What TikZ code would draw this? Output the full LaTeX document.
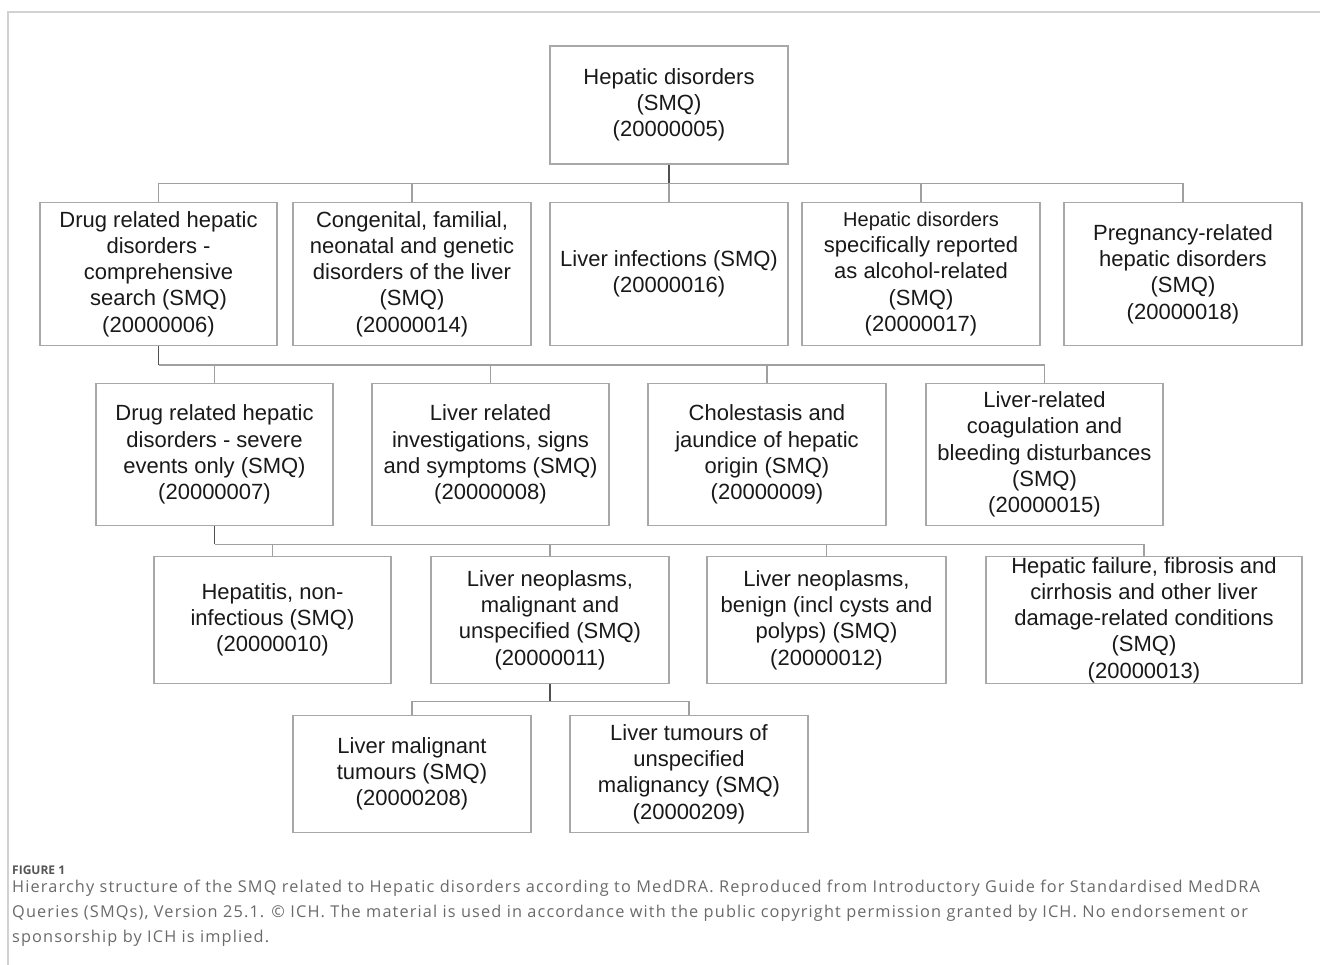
\documentclass[tikz,border=0pt]{standalone}
\usepackage{fontspec}
\setmainfont{Liberation Sans}
\newfontfamily\captionFont{Open Sans}[LetterSpace=7]
\newfontfamily\labelFont{Open Sans}
\newcommand{\boxFont}{\fontsize{22}{26.3}\selectfont}
\newcommand{\smallLine}{\fontsize{20}{26.3}\selectfont}
\newcommand{\stubLength}{19}
\definecolor{boxGray}{HTML}{A8A8A8}
\definecolor{busGray}{HTML}{A0A0A0}
\definecolor{stemGray}{HTML}{505050}
\definecolor{frameGray}{HTML}{D2D2D2}
\definecolor{captionGray}{HTML}{6A6A6A}

\begin{document}
\begin{tikzpicture}[x=1pt, y=-1pt,
    smqbox/.style={draw=boxGray, line width=1.4pt, align=center, inner sep=0pt,
        font=\boxFont, text=black!90},
    link/.style={draw=busGray, line width=1.4pt},
    stem/.style={draw=stemGray, line width=1.6pt}]
\useasboundingbox (0,0) rectangle (1320,965);
% frame of the figure
\draw[frameGray, line width=1.5pt] (1320,12) -- (8,12) -- (8,965);

% top
\node[smqbox, minimum width=238, minimum height=118] (root) at (669,105)
    {Hepatic disorders\\(SMQ)\\(20000005)};

% first level
\node[smqbox, minimum width=237, minimum height=143] (drugComp) at (158.5,274)
    {Drug related hepatic\\disorders -\\comprehensive\\search (SMQ)\\(20000006)};
\node[smqbox, minimum width=238, minimum height=143] (congenital) at (412,274)
    {Congenital, familial,\\neonatal and genetic\\disorders of the liver\\(SMQ)\\(20000014)};
\node[smqbox, minimum width=238, minimum height=143] (infection) at (669,274)
    {Liver infections (SMQ)\\(20000016)};
\node[smqbox, minimum width=238, minimum height=143] (alcohol) at (921,274)
    {{\smallLine Hepatic disorders}\\specifically reported\\as alcohol-related\\(SMQ)\\(20000017)};
\node[smqbox, minimum width=238, minimum height=143] (pregnancy) at (1183,274)
    {Pregnancy-related\\hepatic disorders\\(SMQ)\\(20000018)};

% second level
\node[smqbox, minimum width=237, minimum height=142] (severe) at (214.5,454.5)
    {Drug related hepatic\\disorders - severe\\events only (SMQ)\\(20000007)};
\node[smqbox, minimum width=237, minimum height=142] (investig) at (490.5,454.5)
    {Liver related\\investigations, signs\\and symptoms (SMQ)\\(20000008)};
\node[smqbox, minimum width=238, minimum height=142] (cholestasis) at (767,454.5)
    {Cholestasis and\\jaundice of hepatic\\origin (SMQ)\\(20000009)};
\node[smqbox, minimum width=237, minimum height=142] (coag) at (1044.5,454.5)
    {Liver-related\\coagulation and\\bleeding disturbances\\(SMQ)\\(20000015)};

% third level
\node[smqbox, minimum width=237, minimum height=127] (hepatitis) at (272.5,620)
    {Hepatitis, non-\\infectious (SMQ)\\(20000010)};
\node[smqbox, minimum width=238, minimum height=127] (malignant) at (550,620)
    {Liver neoplasms,\\malignant and\\unspecified (SMQ)\\(20000011)};
\node[smqbox, minimum width=239, minimum height=127] (benign) at (826.5,620)
    {Liver neoplasms,\\benign (incl cysts and\\polyps) (SMQ)\\(20000012)};
\node[smqbox, minimum width=316, minimum height=127] (failure) at (1144,620)
    {Hepatic failure, fibrosis and\\cirrhosis and other liver\\damage-related conditions\\(SMQ)\\(20000013)};

% fourth level
\node[smqbox, minimum width=238, minimum height=117] (tumours) at (412,774)
    {Liver malignant\\tumours (SMQ)\\(20000208)};
\node[smqbox, minimum width=238, minimum height=117] (unspecified) at (689,774)
    {Liver tumours of\\unspecified\\malignancy (SMQ)\\(20000209)};

% links root -> first level
\draw[stem] (root.south) -- ++(0,19) coordinate (bus1);
\draw[link] (drugComp.north) |- (bus1) -| (pregnancy.north);
\foreach \child in {congenital,infection,alcohol}
    \draw[link] (\child.north) -- (\child.north |- bus1);

% links drug related -> second level
\draw[stem] (drugComp.south) -- ++(0,\stubLength) coordinate (bus2);
\draw[link] (bus2) -| (coag.north);
\foreach \child in {severe,investig,cholestasis}
    \draw[link] (\child.north) -- (\child.north |- bus2);

% links severe -> third level
\draw[stem] (severe.south) -- ++(0,18) coordinate (bus3);
\draw[link] (bus3) -| (failure.north);
\foreach \child in {hepatitis,malignant,benign}
    \draw[link] (\child.north) -- (\child.north |- bus3);

% links malignant -> fourth level
\draw[stem] (malignant.south) -- ++(0,17) coordinate (bus4);
\draw[link] (tumours.north) |- (bus4) -| (unspecified.north);

% caption
\node[anchor=base west, inner sep=0pt, text=captionGray!80!black,
    font=\labelFont\bfseries\fontsize{12}{14}\selectfont] (figLabel) at (12,874) {FIGURE 1};
\node[anchor=north west, inner sep=0pt, align=left, text=captionGray,
    font=\captionFont\fontsize{16.3}{25}\selectfont] (caption) at (12,880)
    {Hierarchy structure of the SMQ related to Hepatic disorders according to MedDRA. Reproduced from Introductory Guide for Standardised MedDRA\\
     Queries (SMQs), Version 25.1. \textcopyright{} ICH. The material is used in accordance with the public copyright permission granted by ICH. No endorsement or\\
     sponsorship by ICH is implied.};
\end{tikzpicture}
\end{document}
